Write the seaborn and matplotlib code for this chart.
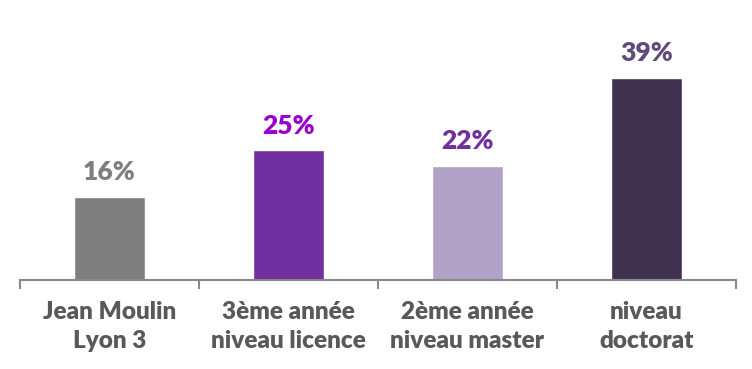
import matplotlib
matplotlib.use('Agg')
import pandas as pd
import seaborn as sns
import matplotlib.pyplot as plt

categories = ['Jean Moulin\nLyon 3', '3ème année\nniveau licence', '2ème année\nniveau master', 'niveau\ndoctorat']
values = [0.16, 0.25, 0.22, 0.39]
bar_colors = ['#7F7F7F', '#7030A0', '#B3A2C7', '#403151']
label_colors = ['#7F7F7F', '#9900CC', '#7030A0', '#604A7B']

df = pd.DataFrame({'categorie': categories, 'valeur': values})

sns.set_style('white')
plt.rcParams['font.family'] = ['Lato', 'DejaVu Sans']

fig = plt.figure(figsize=(7.52, 3.69), dpi=100)
ax = fig.add_axes([20 / 752, 89 / 369, 716 / 752, 280 / 369])

sns.barplot(x='categorie', y='valeur', data=df, hue='categorie',
            palette=bar_colors, width=0.4, legend=False, ax=ax, saturation=1)

for i, v in enumerate(values):
    ax.annotate(f'{v:.0%}', (i, v), xytext=(0, 12), textcoords='offset points',
                ha='center', va='baseline', fontsize=19, fontweight='heavy',
                color=label_colors[i])

ax.set_xlim(-0.5, 3.5)
ax.set_ylim(0, 0.54)
ax.set_xlabel('')
ax.set_ylabel('')
ax.set_yticks([])
sns.despine(ax=ax, left=True)
ax.spines['bottom'].set_color('#898989')
ax.spines['bottom'].set_linewidth(1.5)

ax.set_xticks([-0.5, 0.5, 1.5, 2.5, 3.5], minor=True)
ax.tick_params(axis='x', which='minor', length=6.5, width=1.5, color='#898989', bottom=True)
ax.tick_params(axis='x', which='major', length=0, pad=15)
for lbl in ax.get_xticklabels():
    lbl.set_fontsize(17.5)
    lbl.set_fontweight('heavy')
    lbl.set_color('#595959')
    lbl.set_linespacing(1.4)

fig.savefig('out.png', dpi=100)
